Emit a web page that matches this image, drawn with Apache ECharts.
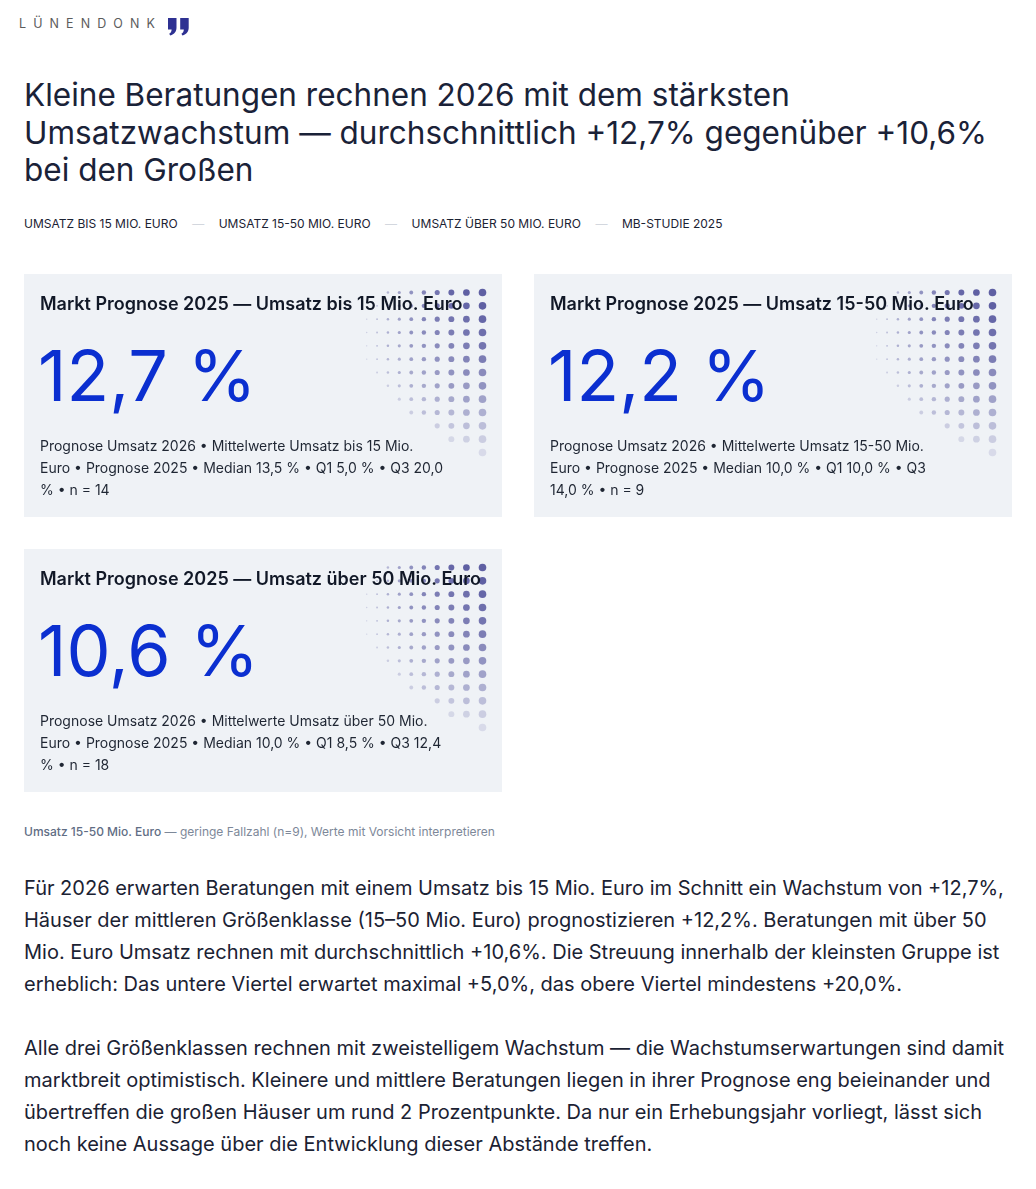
<!DOCTYPE html>
<html lang="de">
<head>
<meta charset="utf-8">
<title>Lünendonk – Prognose Umsatzwachstum 2026</title>
<script src="https://cdn.jsdelivr.net/npm/echarts@6/dist/echarts.min.js"></script>
<style>
  html, body { margin: 0; padding: 0; background: #fff; }
  body { font-family: Inter, "Noto Sans", sans-serif; color: #1b2233; }
  #page { position: relative; width: 1036px; height: 1189px; }
  .brand { position: absolute; left: 19px; top: 16px; font-size: 12.5px; letter-spacing: 7.1px;
    color: #5c5c5c; font-weight: 400; white-space: nowrap; }
  .quote { position: absolute; left: 168px; top: 18px; }
  h1 { position: absolute; left: 24px; top: 76px; width: 990px; margin: 0;
    font-size: 31.5px; line-height: 37.5px; font-weight: 400; color: #1a2238; }
  .tags { position: absolute; left: 24px; top: 216px; font-size: 12px; line-height: 16px;
    color: #1b2233; white-space: nowrap; display: flex; }
  .tags .sep { color: #d3d7de; margin: 0 14.5px; }
  .cards { position: absolute; left: 24px; top: 274px; width: 988px;
    display: grid; grid-template-columns: 478px 478px; column-gap: 32px; row-gap: 32px; }
  .card { position: relative; width: 478px; height: 243px; }
  .card .chart { position: absolute; left: 0; top: 0; width: 478px; height: 243px; }
  .card .desc { position: absolute; left: 16px; top: 161px; width: 405px; margin: 0; z-index: 2;
    font-size: 14px; line-height: 22px; color: #1f2633; }
  .note { position: absolute; left: 24px; top: 824px; margin: 0; font-size: 12px; line-height: 16px;
    color: #7d8899; white-space: nowrap; }
  .note b { font-weight: 500; color: #5f6d84; }
  .body { position: absolute; left: 24px; width: 990px; margin: 0; font-size: 20px; line-height: 32px;
    color: #1b2233; }
</style>
</head>
<body>
<div id="page">
  <span class="brand">LÜNENDONK</span>
  <svg class="quote" width="22" height="18" viewBox="0 0 22 18">
    <path fill="#2e3192" d="M0 0H8.5V9.5C8.5 13.5 6.5 16.3 2.2 17.6L1.2 15.8C2.9 14.8 3.6 13.3 3.6 11.4H0Z"/>
    <path fill="#2e3192" transform="translate(12.2 0)" d="M0 0H8.5V9.5C8.5 13.5 6.5 16.3 2.2 17.6L1.2 15.8C2.9 14.8 3.6 13.3 3.6 11.4H0Z"/>
  </svg>
  <h1>Kleine Beratungen rechnen 2026 mit dem stärksten Umsatzwachstum — durchschnittlich +12,7% gegenüber +10,6% bei den Großen</h1>
  <div class="tags" id="tags"></div>
  <div class="cards" id="cards"></div>
  <p class="note"><b>Umsatz 15-50 Mio. Euro</b> — geringe Fallzahl (n=9), Werte mit Vorsicht interpretieren</p>
  <p class="body" style="top:872px">Für 2026 erwarten Beratungen mit einem Umsatz bis 15 Mio. Euro im Schnitt ein Wachstum von +12,7%, Häuser der mittleren Größenklasse (15–50 Mio. Euro) prognostizieren +12,2%. Beratungen mit über 50 Mio. Euro Umsatz rechnen mit durchschnittlich +10,6%. Die Streuung innerhalb der kleinsten Gruppe ist erheblich: Das untere Viertel erwartet maximal +5,0%, das obere Viertel mindestens +20,0%.</p>
  <p class="body" style="top:1032px">Alle drei Größenklassen rechnen mit zweistelligem Wachstum — die Wachstumserwartungen sind damit marktbreit optimistisch. Kleinere und mittlere Beratungen liegen in ihrer Prognose eng beieinander und übertreffen die großen Häuser um rund 2 Prozentpunkte. Da nur ein Erhebungsjahr vorliegt, lässt sich noch keine Aussage über die Entwicklung dieser Abstände treffen.</p>
</div>
<script>
  // Daten
  var tagLabels = ['UMSATZ BIS 15 MIO. EURO', 'UMSATZ 15-50 MIO. EURO', 'UMSATZ ÜBER 50 MIO. EURO', 'MB-STUDIE 2025'];
  var sizeClasses = ['bis 15 Mio.', '15-50 Mio.', 'über 50 Mio.'];
  var meanValues = [12.7, 12.2, 10.6];
  var medianValues = [13.5, 10.0, 10.0];
  var q1Values = [5.0, 10.0, 8.5];
  var q3Values = [20.0, 14.0, 12.4];
  var sampleSizes = [14, 9, 18];

  // Punktraster oben rechts: Deckkraft je Zeile (Spalte 0 = ganz rechts), aus dem Bild gelesen
  var dotLevels = [
    [10, 10, 9.5, 8.5, 7.5, 6.5, 5.5, 4, 0, 0],
    [10, 9.5, 9, 8.5, 7.5, 6.5, 5.5, 4.5, 3.5, 0],
    [9.5, 9, 8.5, 8, 7.5, 6.5, 5.5, 4.5, 3.5, 2.5],
    [9, 8.5, 8, 7.5, 7, 6.5, 5.5, 4.5, 3.5, 2.5],
    [8.5, 8, 7.5, 7, 6.5, 6, 5, 4.5, 3.5, 2.5],
    [8, 7.5, 7, 6.5, 6, 5.5, 4.5, 4, 3, 2],
    [7, 7, 6.5, 6, 5.5, 5, 4.5, 3.5, 2.5, 0],
    [6.5, 6, 6, 5.5, 5, 4.5, 3.5, 2.5, 0, 0],
    [5.5, 5.5, 5, 4.5, 4, 3.5, 2.5, 0, 0, 0],
    [4.5, 4.5, 4, 4, 3.5, 2.5, 0, 0, 0, 0],
    [3.5, 3.5, 3, 2.5, 0, 0, 0, 0, 0, 0],
    [2.5, 2.2, 1.8, 0, 0, 0, 0, 0, 0, 0],
    [1.6, 0, 0, 0, 0, 0, 0, 0, 0, 0]
  ];
  var dotDiameters = [7.6, 6.7, 5.9, 5.1, 4.4, 3.8, 3.1, 2.5, 1.9, 1.4];
  // Spaltenabstand wird nach links enger: log-Achse mit Versatz
  var COL_OFFSET = 14;

  function fmt(v) {
    return v.toFixed(1).replace('.', ',');
  }

  document.getElementById('tags').innerHTML = tagLabels.map(function (t) {
    return '<span>' + t + '</span>';
  }).join('<span class="sep">—</span>');

  var dots = [];
  dotLevels.forEach(function (row, r) {
    row.forEach(function (level, c) {
      if (level > 0) dots.push([c + COL_OFFSET, r, level, c]);
    });
  });

  var FONT = 'Inter, "Noto Sans", sans-serif';
  var cardsEl = document.getElementById('cards');

  sizeClasses.forEach(function (cls, i) {
    var card = document.createElement('div');
    card.className = 'card';
    var chartEl = document.createElement('div');
    chartEl.className = 'chart';
    card.appendChild(chartEl);
    var desc = document.createElement('p');
    desc.className = 'desc';
    desc.textContent = 'Prognose Umsatz 2026 • Mittelwerte Umsatz ' + cls + ' Euro • Prognose 2025 • Median ' +
      fmt(medianValues[i]) + ' % • Q1 ' + fmt(q1Values[i]) + ' % • Q3 ' + fmt(q3Values[i]) +
      ' % • n = ' + sampleSizes[i];
    card.appendChild(desc);
    cardsEl.appendChild(card);

    var chart = echarts.init(chartEl, null, { renderer: 'canvas' });
    chart.setOption({
      animation: false,
      backgroundColor: '#eff2f6',
      grid: { left: 342.7, right: 19.5, top: 18.5, bottom: 64.5 },
      xAxis: { type: 'log', min: COL_OFFSET, max: COL_OFFSET + 9, inverse: true, show: false },
      yAxis: { type: 'value', min: 0, max: 12, inverse: true, show: false },
      series: [{
        type: 'scatter',
        silent: true,
        z: 1,
        data: dots,
        symbolSize: function (v) { return dotDiameters[v[3]]; },
        itemStyle: {
          color: function (p) { return 'rgba(59, 59, 143, ' + (p.value[2] / 10) + ')'; }
        }
      }],
      graphic: [
        {
          type: 'text', x: 16, y: 30.5, z: 100, silent: true,
          style: {
            text: 'Markt Prognose 2025 — Umsatz ' + cls + ' Euro',
            font: '600 18px ' + FONT, fill: '#111827', verticalAlign: 'middle'
          }
        },
        {
          type: 'text', x: 14, y: 106, z: 100, silent: true,
          style: {
            text: fmt(meanValues[i]) + ' %',
            font: '400 70px ' + FONT, fill: '#0b2fd0', verticalAlign: 'middle'
          }
        }
      ]
    });
  });
</script>
</body>
</html>
